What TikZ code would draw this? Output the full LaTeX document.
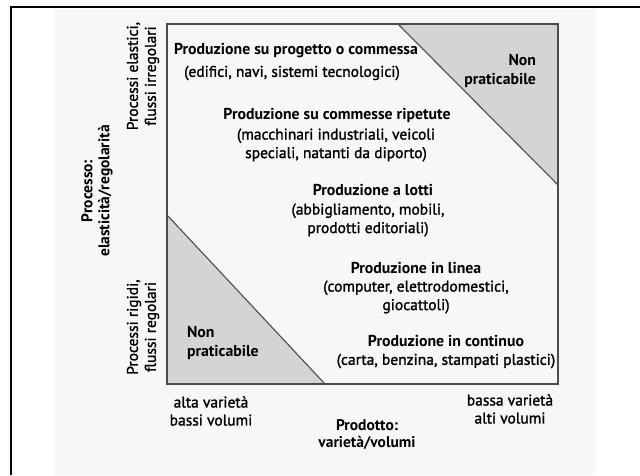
\documentclass[tikz,border=0pt]{standalone}
\usepackage{fontspec}
\setmainfont{PT Sans}
\newfontfamily\medfont[FakeBold=1.4]{PT Sans}
\begin{document}
\begin{tikzpicture}[x=1pt,y=-1pt,
  every node/.style={inner sep=0pt, outer sep=0pt},
  frameline/.style={line width=2.6pt, black},
  boxline/.style={line width=1.1pt, draw=black!70},
  blocked/.style={fill=black!17},
  title/.style={font=\fontsize{15.8}{18.5}\selectfont\bfseries, align=center},
  cat/.style={font=\fontsize{15.5}{18.5}\selectfont\medfont, align=center},
  axis/.style={font=\fontsize{15.5}{17}\selectfont\bfseries, align=center},
  side/.style={font=\fontsize{15.5}{18}\selectfont\medfont, align=center}]
\useasboundingbox (0,0) rectangle (640,475);
% scanned page tint
\fill[black!3] (55,9) rectangle (596,475);
% outer frame
\draw[frameline] (11,475) -- (11,7) -- (640,7);

% corners of the matrix
\coordinate (tl) at (167,24);
\coordinate (tr) at (558,24);
\coordinate (br) at (558,384);
\coordinate (bl) at (167,384);
\coordinate (tcut) at (398,24);
\coordinate (rcut) at (558,185);
\coordinate (lcut) at (167,215);
\coordinate (bcut) at (325,384);

% infeasible corners
\fill[blocked] (tcut) -- (tr) -- (rcut) -- cycle;
\fill[blocked] (lcut) -- (bl) -- (bcut) -- cycle;
\draw[boxline] (tcut) -- (rcut);
\draw[boxline] (lcut) -- (bcut);
\draw[boxline] (tl) rectangle (br);

% production types along the diagonal
\node[title] (p1t) at (296,51) {Produzione su progetto o commessa};
\node[cat]   (p1s) at (292,73) {(edifici, navi, sistemi tecnologici)};
\node[title] (p2t) at (337,115) {Produzione su commesse ripetute};
\node[cat]   (p2s) at (336,145) {(macchinari industriali, veicoli\\speciali, natanti da diporto)};
\node[title] (p3t) at (373,190) {Produzione a lotti};
\node[cat]   (p3s) at (368,220) {(abbigliamento, mobili,\\prodotti editoriali)};
\node[title] (p4t) at (416,268) {Produzione in linea};
\node[cat]   (p4s) at (416,297) {(computer, elettrodomestici,\\giocattoli)};
\node[title] (p5t) at (446,341) {Produzione in continuo};
\node[cat]   (p5s) at (446,361) {(carta, benzina, stampati plastici)};

% infeasible labels
\node[title, align=right, anchor=east] (np1) at (536,71) {Non\\praticabile};
\node[title, align=left, anchor=west] (np2) at (187,343) {Non\\praticabile};

% vertical axis
\node[side, rotate=90] (pe) at (143,76) {Processi elastici,\\flussi irregolari};
\node[side, rotate=90] (pr) at (143,327) {Processi rigidi,\\flussi regolari};
\node[axis, rotate=90] (px) at (97,191) {Processo:\\elasticità/regolarità};

% horizontal axis
\node[side] (hv) at (211,411) {alta varietà\\bassi volumi};
\node[side] (lv) at (510,409) {bassa varietà\\alti volumi};
\node[axis] (pd) at (367,435) {Prodotto:\\varietà/volumi};
\end{tikzpicture}
\end{document}
